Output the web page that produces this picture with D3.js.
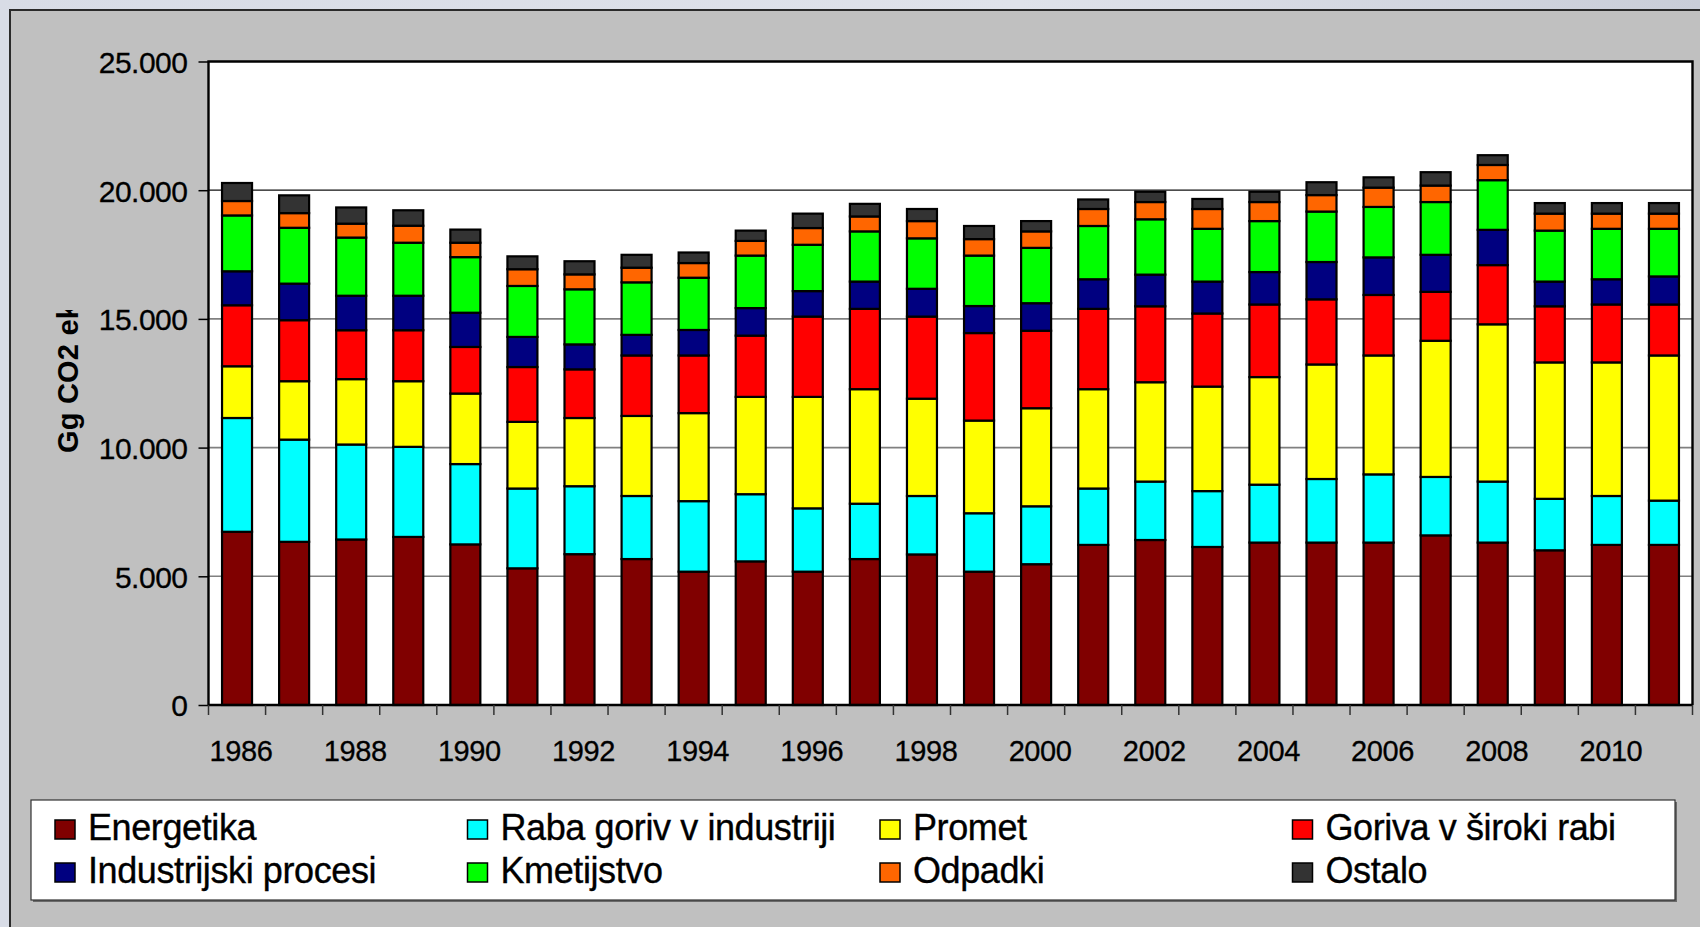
<!DOCTYPE html>
<html>
<head>
<meta charset="utf-8">
<script src="https://cdn.jsdelivr.net/npm/d3@7"></script>
<style>
  html, body { margin: 0; padding: 0; background: #d3d7e0; }
  svg { display: block; }
  text { font-family: "Liberation Sans", Arial, sans-serif; }
</style>
</head>
<body>
<svg id="chart" width="1700" height="927"></svg>
<script>
// ---------- data ----------
const years = [1986,1987,1988,1989,1990,1991,1992,1993,1994,1995,1996,1997,1998,1999,2000,2001,2002,2003,2004,2005,2006,2007,2008,2009,2010,2011];
const xTickLabels = [1986,1988,1990,1992,1994,1996,1998,2000,2002,2004,2006,2008,2010];
const yTicks = [0,5000,10000,15000,20000,25000];

const seriesNames = ["Energetika","Raba goriv v industriji","Promet","Goriva v široki rabi","Industrijski procesi","Kmetijstvo","Odpadki","Ostalo"];
const seriesColors = ["#800000","#00ffff","#ffff00","#ff0000","#000080","#00ff00","#ff6600","#333333"];

const energetika   = [6730,6340,6430,6530,6240,5310,5860,5670,5180,5580,5180,5670,5850,5180,5470,6220,6410,6140,6310,6310,6310,6590,6310,6010,6220,6220];
const rabaGoriv    = [4420,3970,3690,3500,3120,3100,2640,2450,2740,2610,2460,2150,2270,2270,2250,2190,2270,2170,2250,2470,2650,2270,2370,2000,1900,1720];
const promet       = [2010,2270,2540,2550,2740,2590,2650,3110,3420,3780,4330,4450,3780,3600,3810,3860,3860,4060,4180,4450,4620,5290,6110,5300,5190,5640];
const gorivaSiroko = [2370,2370,1900,1980,1810,2130,1890,2350,2240,2380,3120,3120,3190,3400,3010,3120,2950,2840,2820,2530,2350,1900,2300,2180,2250,1980];
const industrijski = [1320,1420,1340,1340,1330,1170,970,800,990,1070,990,1060,1080,1050,1070,1150,1230,1240,1260,1450,1460,1440,1370,960,980,1090];
const kmetijstvo   = [2170,2170,2260,2060,2160,1980,2140,2040,2030,2040,1800,1950,1960,1960,2150,2070,2150,2050,1980,1960,1960,2050,1930,1980,1960,1850];
const odpadki      = [560,570,540,660,560,650,580,570,570,570,650,580,670,640,640,660,670,770,740,640,750,640,590,660,590,590];
const ostalo       = [700,690,630,600,510,500,510,500,410,400,560,490,470,510,400,370,400,390,400,500,400,520,380,410,410,410];

const seriesValues = [energetika, rabaGoriv, promet, gorivaSiroko, industrijski, kmetijstvo, odpadki, ostalo];
const yTitle = "Gg CO2 ekv";

// ---------- build table ----------
const table = years.map((yr, i) => {
  const row = { year: yr };
  seriesNames.forEach((n, k) => row[n] = seriesValues[k][i]);
  return row;
});

const svg = d3.select("#chart");
const W = 1700, H = 927;

// background
const defs = svg.append("defs");
const grad = defs.append("linearGradient").attr("id","bg").attr("x1","0").attr("x2","1").attr("y1","0").attr("y2","0");
grad.append("stop").attr("offset","0").attr("stop-color","#d8dce6");
grad.append("stop").attr("offset","0.6").attr("stop-color","#dfe2ea");
grad.append("stop").attr("offset","1").attr("stop-color","#c9cdd8");
svg.append("rect").attr("width",W).attr("height",H).attr("fill","url(#bg)");

// gray chart panel
svg.append("rect").attr("x",10).attr("y",10).attr("width",W).attr("height",H)
  .attr("fill","#c0c0c0").attr("stroke","#2a2a2a").attr("stroke-width",2);

// ---------- scales ----------
const plot = { left: 208.5, right: 1692.5, top: 61.5, bottom: 705 };
const step = (plot.right - plot.left) / years.length;
const pIn = 1 - 30 / step;
const x = d3.scaleBand().domain(years).range([plot.left, plot.right]).paddingInner(pIn).paddingOuter(pIn / 2);
const y = d3.scaleLinear().domain([0, 25000]).range([plot.bottom, plot.top]);

const loc = d3.formatLocale({ decimal: ",", thousands: ".", grouping: [3], currency: ["", ""] });
const fmt = loc.format(",d");

// plot area
svg.append("rect").attr("x",plot.left).attr("y",plot.top)
  .attr("width",plot.right-plot.left).attr("height",plot.bottom-plot.top).attr("fill","#ffffff");

// gridlines
svg.append("g").selectAll("line").data(yTicks.filter(t => t > 0 && t < 25000)).join("line")
  .attr("x1",plot.left).attr("x2",plot.right)
  .attr("y1",d => y(d)).attr("y2",d => y(d))
  .attr("stroke",d => d === 20000 ? "#111" : "#808080")
  .attr("stroke-width",d => d === 20000 ? 1.2 : 1.6);

// ---------- stacked bars ----------
const stack = d3.stack().keys(seriesNames);
const layers = stack(table);
const colorOf = d3.scaleOrdinal().domain(seriesNames).range(seriesColors);

svg.append("g").selectAll("g").data(layers).join("g")
  .attr("fill", d => colorOf(d.key))
  .selectAll("rect").data(d => d).join("rect")
  .attr("x", d => x(d.data.year))
  .attr("width", x.bandwidth())
  .attr("y", d => y(d[1]))
  .attr("height", d => y(d[0]) - y(d[1]))
  .attr("stroke","#000").attr("stroke-width",2.2);

// plot border
svg.append("path")
  .attr("d", `M${plot.left},${plot.bottom} V${plot.top} H${plot.right} V${plot.bottom}`)
  .attr("fill","none").attr("stroke","#000").attr("stroke-width",2.4);

// ---------- y axis ----------
const yAxis = d3.axisLeft(y).tickValues(yTicks).tickFormat(fmt).tickSize(10).tickPadding(11);
const gy = svg.append("g").attr("transform",`translate(${plot.left},0)`).call(yAxis);
gy.select(".domain").remove();
gy.selectAll(".tick line").attr("stroke","#000").attr("stroke-width",1.5);
gy.selectAll(".tick text").attr("font-size",30).attr("fill","#000")
  .attr("font-family","'Liberation Sans', Arial, sans-serif").attr("dy","0.36em").attr("letter-spacing","-0.5")
  .attr("stroke","#000").attr("stroke-width",0.3);

// ---------- x axis ----------
const gx = svg.append("g");
gx.append("line").attr("x1",plot.left).attr("x2",plot.right).attr("y1",plot.bottom).attr("y2",plot.bottom)
  .attr("stroke","#000").attr("stroke-width",2.4);
const bounds = years.map(yr => x(yr) - (step - x.bandwidth()) / 2).concat([plot.right]);
gx.selectAll("line.tk").data(bounds).join("line").attr("class","tk")
  .attr("x1",d => d).attr("x2",d => d).attr("y1",plot.bottom).attr("y2",plot.bottom + 10)
  .attr("stroke","#333").attr("stroke-width",1.5);
gx.selectAll("text").data(xTickLabels).join("text")
  .attr("x", d => x(d) + x.bandwidth() / 2 + 4)
  .attr("y", 761)
  .attr("text-anchor","middle").attr("font-size",29).attr("fill","#000").attr("letter-spacing","-0.4")
  .attr("stroke","#000").attr("stroke-width",0.3)
  .text(d => d);

// ---------- y title (clipped like the original) ----------
defs.append("clipPath").attr("id","titleClip").append("rect")
  .attr("x",30).attr("y",310).attr("width",80).attr("height",200);
svg.append("g").attr("clip-path","url(#titleClip)")
  .append("text")
  .attr("transform","translate(78,453) rotate(-90)")
  .attr("font-size",29).attr("font-weight","bold").attr("fill","#000").attr("letter-spacing","0.2")
  .text(yTitle);

// ---------- legend ----------
const lg = svg.append("g");
lg.append("rect").attr("x",33).attr("y",802).attr("width",1644).attr("height",100).attr("fill","#6a6a6a");
lg.append("rect").attr("x",31).attr("y",800).attr("width",1644).attr("height",100)
  .attr("fill","#ffffff").attr("stroke","#333").attr("stroke-width",1.2);
const items = lg.selectAll("g.item").data(seriesNames).join("g").attr("class","item")
  .attr("transform",(d,i) => `translate(${55 + (i % 4) * 412.5},${820 + Math.floor(i / 4) * 43})`);
items.append("rect").attr("width",20).attr("height",19)
  .attr("fill",d => colorOf(d)).attr("stroke","#000").attr("stroke-width",1.5);
items.append("text").attr("x",33).attr("y",20)
  .attr("font-size",36).attr("fill","#000").attr("letter-spacing","-0.4")
  .attr("stroke","#000").attr("stroke-width",0.35)
  .text(d => d);
</script>
</body>
</html>
